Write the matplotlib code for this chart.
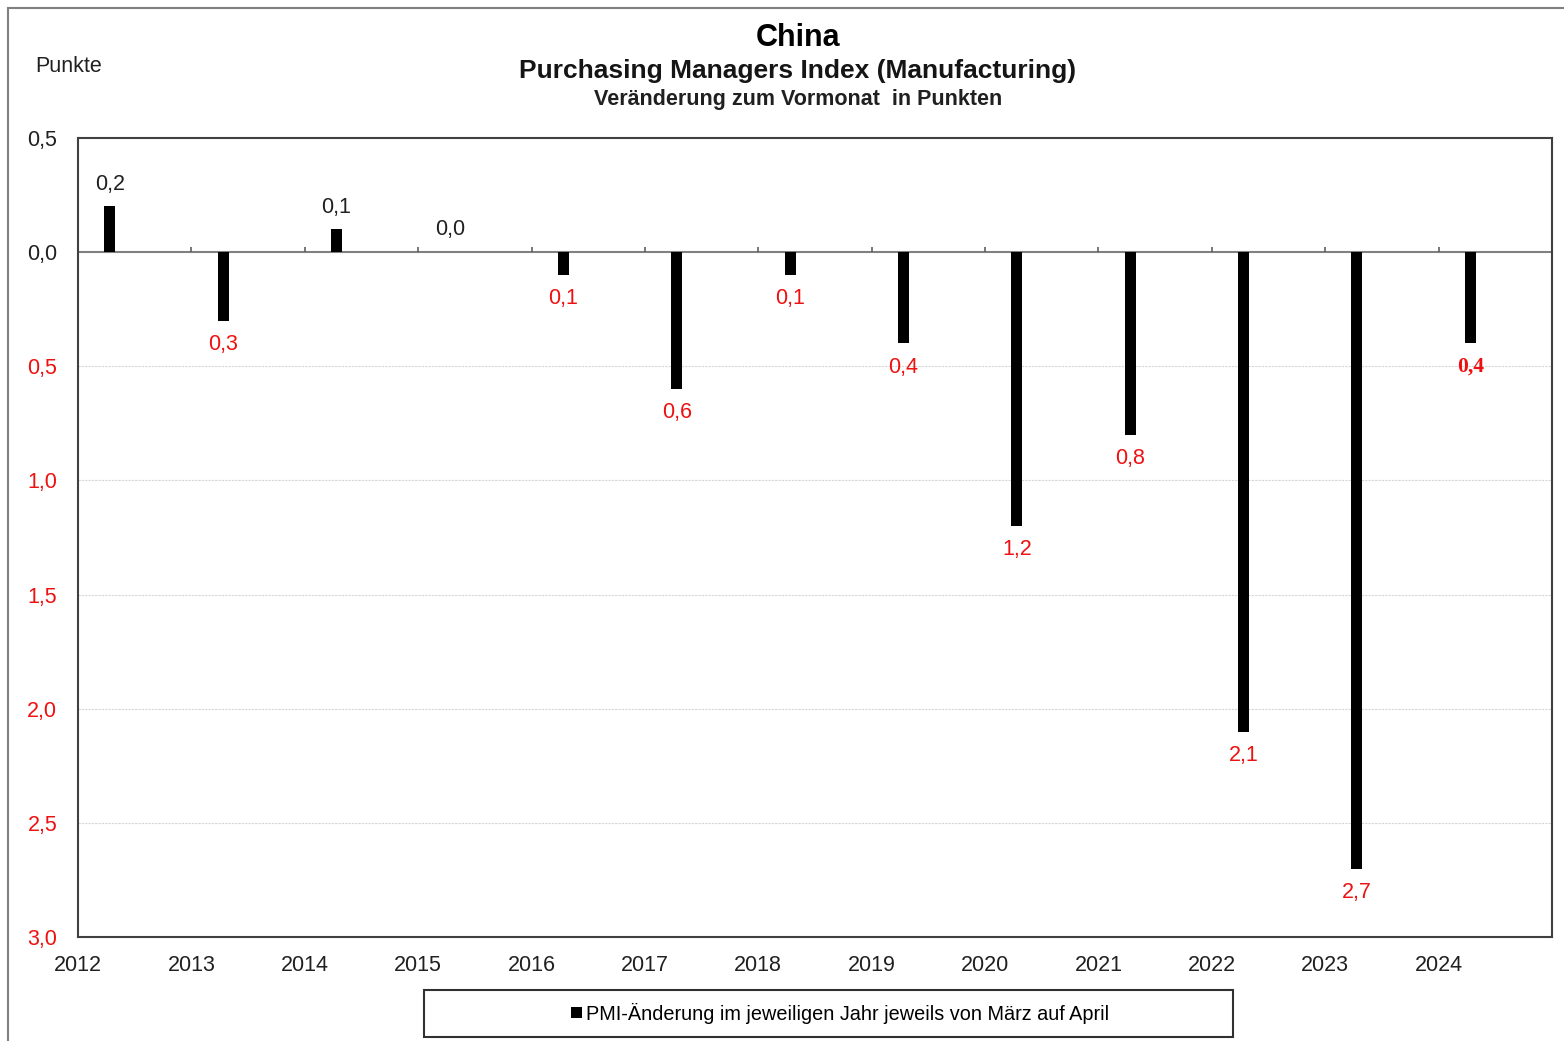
import matplotlib.pyplot as plt
from matplotlib.patches import Rectangle

plt.rcParams['font.family'] = ['Liberation Sans', 'DejaVu Sans']

# PMI change March -> April, per year
years = [2012, 2013, 2014, 2015, 2016, 2017, 2018, 2019, 2020, 2021, 2022, 2023, 2024]
changes = [0.2, -0.3, 0.1, 0.0, -0.1, -0.6, -0.1, -0.4, -1.2, -0.8, -2.1, -2.7, -0.4]
yticks = [0.5, 0.0, -0.5, -1.0, -1.5, -2.0, -2.5, -3.0]
legend_label = "PMI-Änderung im jeweiligen Jahr jeweils von März auf April"

april = 0.28  # bar placed at April of each year

fig = plt.figure(figsize=(15.64, 10.41), dpi=100)
ax = fig.add_axes([78 / 1564, 1 - 937 / 1041, (1552 - 78) / 1564, (937 - 138) / 1041])

xs = [y + april for y in years]
bars = ax.bar(xs, changes, width=0.097, color='black', label=legend_label, zorder=3)

ax.set_xlim(2012, 2025)
ax.set_ylim(-3.0, 0.5)

# grid + zero line
for v in yticks[2:-1]:
    ax.axhline(v, color='#d6d6d6', lw=0.8, ls=(0, (2, 1)), zorder=1)
ax.axhline(0, color='#808080', lw=1.5, zorder=2)
ax.vlines(years[1:], 0, 0.022, color='#606060', lw=1.2, zorder=2)

# value labels
for x, v in zip(xs, changes):
    txt = f"{abs(v):.1f}".replace('.', ',')
    if v >= 0:
        ax.annotate(txt, (x, v), xytext=(0, 16), textcoords='offset points',
                    ha='center', va='center', fontsize=15.5, color='#202020')
    elif x > 2024:
        ax.annotate(txt, (x, v), xytext=(0, -17), textcoords='offset points',
                    ha='center', va='center', fontsize=15.5, color='#ee1111',
                    family='Liberation Serif', fontweight='bold')
    else:
        ax.annotate(txt, (x, v), xytext=(0, -17), textcoords='offset points',
                    ha='center', va='center', fontsize=15.5, color='#ee1111')

ax.set_yticks(yticks)
ax.set_yticklabels([f"{abs(v):.1f}".replace('.', ',') for v in yticks], fontsize=15.5)
for lab, v in zip(ax.get_yticklabels(), yticks):
    lab.set_color('#202020' if v >= 0 else '#ee1111')
ax.tick_params(axis='y', length=0, pad=15)

ax.set_xticks(years)
ax.set_xticklabels([str(y) for y in years], fontsize=15.5, color='#202020')
ax.tick_params(axis='x', length=0, pad=13)

for s in ax.spines.values():
    s.set_color('#404040')
    s.set_linewidth(1.5)

# titles
fig.text(0.51, 1 - 38 / 1041, "China", ha='center', va='center', fontsize=22, fontweight='bold')
fig.text(0.51, 1 - 71 / 1041, "Purchasing Managers Index (Manufacturing)", ha='center', va='center',
         fontsize=19, fontweight='bold', color='#151515')
fig.text(0.51, 1 - 99 / 1041, "Veränderung zum Vormonat  in Punkten", ha='center', va='center',
         fontsize=15.5, fontweight='bold', color='#202020')
fig.text(35 / 1564, 1 - 66 / 1041, "Punkte", ha='left', va='center', fontsize=15.5, color='#202020')

# outer border
fig.patches.append(Rectangle((8 / 1564, -0.05), 1.1, 1 - 8 / 1041 + 0.05, transform=fig.transFigure,
                             fill=False, edgecolor='#808080', lw=1.5))

# legend box
fig.patches.append(Rectangle((424 / 1564, 1 - 1037 / 1041), (1233 - 424) / 1564, 47 / 1041,
                             transform=fig.transFigure, fill=False, edgecolor='#303030', lw=1.5))
fig.legend(handles=[bars], labels=[legend_label], loc='center',
           bbox_to_anchor=(840 / 1564, 1 - 1013 / 1041), frameon=False, fontsize=14.3,
           handlelength=0.55, handleheight=0.55, handletextpad=0.2)

fig.savefig('out.png', dpi=100)
